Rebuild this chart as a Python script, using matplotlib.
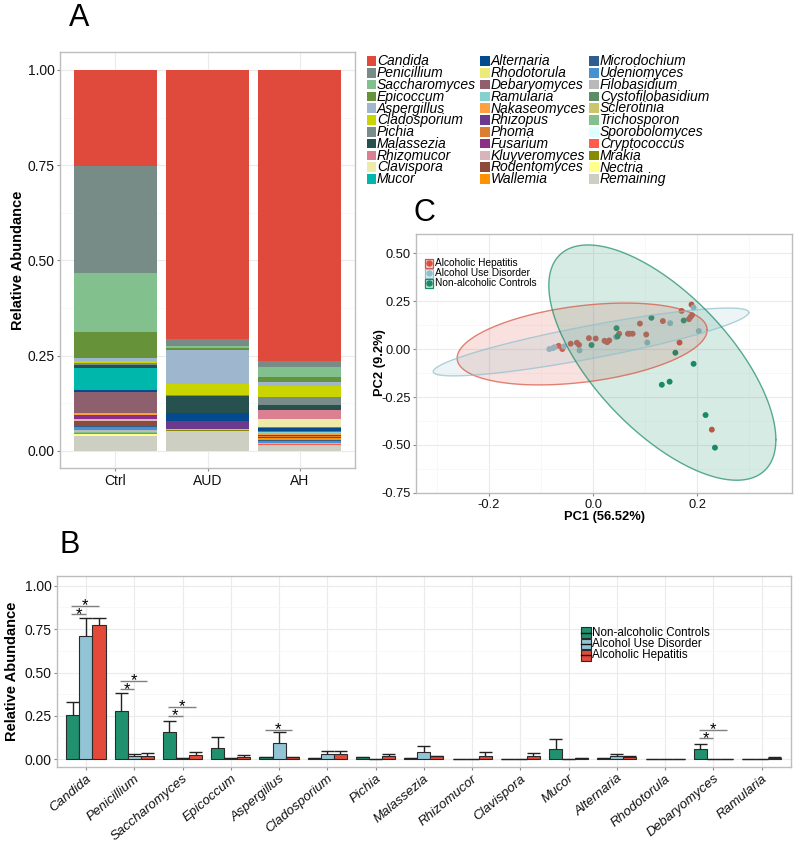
import matplotlib.pyplot as plt
import numpy as np
from matplotlib.patches import Rectangle
from matplotlib.lines import Line2D

ANCHO = 800
ALTO = 843

# ---------------- Panel A: abundancia relativa apilada ----------------
GENEROS = ["Candida", "Penicillium", "Saccharomyces", "Epicoccum", "Aspergillus",
           "Cladosporium", "Pichia", "Malassezia", "Rhizomucor", "Clavispora", "Mucor",
           "Alternaria", "Rhodotorula", "Debaryomyces", "Ramularia", "Nakaseomyces",
           "Rhizopus", "Phoma", "Fusarium", "Kluyveromyces", "Rodentomyces", "Wallemia",
           "Microdochium", "Udeniomyces", "Filobasidium", "Cystofilobasidium", "Sclerotinia",
           "Trichosporon", "Sporobolomyces", "Cryptococcus", "Mrakia", "Nectria", "Remaining"]
COLORES = ["#DF4A3C", "#778B87", "#82C08E", "#66923A", "#9EB6CE",
           "#C9D400", "#7A8C89", "#27514E", "#DA8090", "#EEEBAA", "#00B7AC",
           "#044A8F", "#EEEA7A", "#8E5F6C", "#86D1CE", "#FFA040",
           "#6B3A8D", "#DB7E34", "#8B2F86", "#D6B6BA", "#8E4B3A", "#FF9200",
           "#2E5E8E", "#4691D1", "#B9B9B9", "#5A8C66", "#CBC56C",
           "#82C08E", "#DFFFFF", "#FF5A4A", "#868C00", "#FFFF8A", "#CECFC3"]
GRUPOS_A = ["Ctrl", "AUD", "AH"]
ABUND_CTRL = [0.2537, 0.280, 0.1557, 0.0674, 0.0087, 0.0052, 0.0061, 0.006, 0.001, 0.001, 0.0569,
              0.0052, 0.0005, 0.0542, 0.0005, 0.0044, 0.0005, 0.001, 0.0105, 0.0052, 0.013, 0.001,
              0.002, 0.007, 0.002, 0.002, 0.002, 0.002, 0.001, 0.001, 0.002, 0.003, 0.0402]
ABUND_AUD = [0.7087, 0.0175, 0.0044, 0.007, 0.0892, 0.028, 0.0026, 0.0437, 0.0, 0.0, 0.0005,
             0.0201, 0.0, 0.0005, 0.0, 0.0, 0.0219, 0.001, 0.0, 0.0, 0.0, 0.0,
             0.0, 0.0, 0.0, 0.0, 0.002, 0.0, 0.0, 0.0, 0.001, 0.0, 0.0534]
ABUND_AH = [0.770, 0.0175, 0.0262, 0.0131, 0.0105, 0.0306, 0.0201, 0.0131, 0.0236, 0.0201, 0.0035,
            0.008, 0.001, 0.001, 0.005, 0.005, 0.001, 0.004, 0.001, 0.001, 0.001, 0.004,
            0.004, 0.003, 0.001, 0.001, 0.001, 0.001, 0.0005, 0.001, 0.0005, 0.001, 0.015]

# ---------------- Panel B: medias por genero ----------------
GENEROS_B = GENEROS[:15]
GRUPOS_B = ["Non-alcoholic Controls", "Alcohol Use Disorder", "Alcoholic Hepatitis"]
COLORES_B = ["#21906F", "#93C4D5", "#E34A3A"]
MEDIA_NC = [0.255, 0.28, 0.158, 0.068, 0.012, 0.005, 0.012, 0.005, 0.001, 0.001, 0.058, 0.006, 0.001, 0.058, 0.001]
TOPE_NC = [0.332, 0.38, 0.22, 0.131, 0.014, 0.007, 0.015, 0.007, 0.001, 0.001, 0.115, 0.008, 0.001, 0.086, 0.001]
MEDIA_AUD = [0.712, 0.02, 0.006, 0.007, 0.092, 0.028, 0.003, 0.044, 0.001, 0.001, 0.001, 0.02, 0.001, 0.001, 0.001]
TOPE_AUD = [0.812, 0.029, 0.007, 0.009, 0.155, 0.05, 0.004, 0.078, 0.001, 0.001, 0.002, 0.03, 0.001, 0.002, 0.001]
MEDIA_AH = [0.774, 0.019, 0.026, 0.015, 0.012, 0.03, 0.02, 0.018, 0.021, 0.02, 0.008, 0.015, 0.001, 0.002, 0.01]
TOPE_AH = [0.816, 0.035, 0.045, 0.027, 0.015, 0.048, 0.032, 0.022, 0.04, 0.038, 0.01, 0.021, 0.001, 0.003, 0.013]
# (indice de genero, grupo comparado con controles, altura de la linea)
SIGNIF_GENERO = [0, 0, 1, 1, 2, 2, 4, 13, 13]
SIGNIF_GRUPO = [1, 2, 1, 2, 1, 2, 2, 1, 2]
SIGNIF_ALTURA = [0.835, 0.885, 0.403, 0.453, 0.251, 0.301, 0.171, 0.121, 0.169]

# ---------------- Panel C: PCA ----------------
GRUPOS_C = ["Alcoholic Hepatitis", "Alcohol Use Disorder", "Non-alcoholic Controls"]
COLORES_C = ["#D9503F", "#8FC0CE", "#178A66"]
PC1_AH = [-0.066, -0.059, -0.043, -0.031, -0.027, -0.008, 0.005, 0.022, 0.027, 0.031, 0.050, 0.067,
          0.070, 0.076, 0.090, 0.102, 0.134, 0.166, 0.170, 0.184, 0.187, 0.190, 0.189, 0.228]
PC2_AH = [0.017, 0.000, 0.028, 0.033, 0.022, 0.057, 0.055, 0.043, 0.036, 0.045, 0.080, 0.080,
          0.080, 0.080, 0.133, 0.076, 0.146, 0.034, 0.199, 0.156, 0.167, 0.177, 0.232, -0.420]
PC1_AUD = [-0.084, -0.077, -0.074, -0.056, -0.026, 0.044, 0.104, 0.148, 0.193, 0.203]
PC2_AUD = [0.000, 0.005, 0.010, 0.014, -0.007, 0.063, 0.034, 0.135, 0.217, 0.094]
PC1_NC = [-0.003, 0.045, 0.047, 0.112, 0.174, 0.158, 0.193, 0.132, 0.147, 0.216, 0.234]
PC2_NC = [0.021, 0.109, 0.066, 0.163, 0.149, -0.019, -0.077, -0.186, -0.170, -0.344, -0.514]
# centro x, centro y, semieje x, semieje y, desfase (grados)
ELIPSE_AH = [-0.021, 0.0265, 0.240, 0.2135, 69.9]
ELIPSE_AUD = [-0.004, 0.037, 0.303, 0.177, 29.5]
ELIPSE_NC = [0.133, -0.0705, 0.218, 0.6135, 130.9]


def rect_px(izq, arriba, der, abajo):
    return [izq / ANCHO, 1 - abajo / ALTO, (der - izq) / ANCHO, (abajo - arriba) / ALTO]


def px(x, y):
    return x / ANCHO, 1 - y / ALTO


def estilo(ax):
    for s in ax.spines.values():
        s.set_color("#BDBDBD")
        s.set_linewidth(1.0)
    ax.grid(True, which="major", color="#EBEBEB", lw=0.8)
    ax.grid(True, which="minor", color="#F5F5F5", lw=0.5)
    ax.set_axisbelow(True)
    ax.tick_params(which="major", length=2.5, width=0.8, color="#8A8A8A", pad=1.5,
                   labelsize=10, labelcolor="#111111")
    ax.tick_params(which="minor", length=0)


def panel_a(fig):
    ax = fig.add_axes(rect_px(60, 52, 355, 468))
    estilo(ax)
    datos = np.array([ABUND_CTRL, ABUND_AUD, ABUND_AH])
    datos = datos / datos.sum(axis=1, keepdims=True)
    x = np.arange(1, len(GRUPOS_A) + 1)
    base = np.zeros(len(GRUPOS_A))
    for i in range(len(GENEROS) - 1, -1, -1):
        ax.bar(x, datos[:, i], width=0.9, bottom=base, color=COLORES[i], linewidth=0)
        base = base + datos[:, i]
    ax.set_xlim(0.4, 3.6)
    ax.set_ylim(-0.045, 1.047)
    ax.set_xticks(x)
    ax.set_xticklabels(GRUPOS_A)
    ax.set_yticks([0, 0.25, 0.5, 0.75, 1.0])
    ax.set_yticklabels(["0.00", "0.25", "0.50", "0.75", "1.00"])
    ax.set_yticks([0.125, 0.375, 0.625, 0.875], minor=True)
    fig.text(*px(18, 260), "Relative Abundance", rotation=90, fontsize=10.5,
             fontweight="bold", ha="center", va="center")

    # leyenda de generos en tres columnas
    columnas = [366.5, 480, 589.3]
    for i, nombre in enumerate(GENEROS):
        col = i // 11
        fila = i % 11
        yc = 61 + fila * 11.8
        x0 = columnas[col]
        fig.add_artist(Rectangle(px(x0, yc + 4.8), 9.5 / ANCHO, 9.6 / ALTO,
                                 transform=fig.transFigure, facecolor=COLORES[i],
                                 edgecolor="none"))
        fig.text(*px(x0 + 10.5, yc + 0.3), nombre, fontsize=10, fontstyle="italic",
                 ha="left", va="center")


def panel_b(fig):
    ax = fig.add_axes(rect_px(57, 576, 790.7, 767))
    estilo(ax)
    ancho = 0.27
    x = np.arange(1, len(GENEROS_B) + 1)
    medias = [MEDIA_NC, MEDIA_AUD, MEDIA_AH]
    topes = [TOPE_NC, TOPE_AUD, TOPE_AH]
    for g in range(3):
        xs = x + (g - 1) * ancho
        ax.bar(xs, medias[g], width=ancho, color=COLORES_B[g], edgecolor="#2B2B2B",
               linewidth=0.8, zorder=2)
        ax.vlines(xs, medias[g], topes[g], color="#222222", lw=1, zorder=3)
        ax.hlines(topes[g], xs - ancho / 2, xs + ancho / 2, color="#222222", lw=1, zorder=3)
    for gen, grp, alt in zip(SIGNIF_GENERO, SIGNIF_GRUPO, SIGNIF_ALTURA):
        x1 = gen + 1 - ancho - 0.03
        x2 = gen + 1 + (grp - 1) * ancho
        ax.hlines(alt, x1, x2, color="#808080", lw=1, zorder=3)
        ax.text((x1 + x2) / 2, alt, "*", fontsize=12, ha="center", va="center", zorder=4)
    ax.set_xlim(0.4, 15.6)
    ax.set_ylim(-0.044, 1.056)
    ax.set_xticks(x)
    ax.set_xticklabels(GENEROS_B, rotation=40, ha="right", va="top",
                       rotation_mode="anchor", fontstyle="italic", fontsize=9.6)
    ax.tick_params(axis="x", pad=1.5)
    ax.set_yticks([0, 0.25, 0.5, 0.75, 1.0])
    ax.set_yticklabels(["0.00", "0.25", "0.50", "0.75", "1.00"])
    ax.set_yticks([0.125, 0.375, 0.625, 0.875], minor=True)
    fig.text(*px(12, 671), "Relative Abundance", rotation=90, fontsize=10.5,
             fontweight="bold", ha="center", va="center")

    # leyenda
    for g, nombre in enumerate(GRUPOS_B):
        yc = 632.7 + g * 11.3
        fig.add_artist(Rectangle(px(581, yc + 5.4), 10 / ANCHO, 10.8 / ALTO,
                                 transform=fig.transFigure, facecolor=COLORES_B[g],
                                 edgecolor="#2B2B2B", lw=0.8))
        fig.add_artist(Line2D([581 / ANCHO, 591 / ANCHO], [1 - yc / ALTO, 1 - yc / ALTO],
                              transform=fig.transFigure, color="#111111", lw=1))
        fig.text(*px(592, yc), nombre, fontsize=8.4, ha="left", va="center")


def puntos_elipse(elipse):
    cx, cy, sx, sy, fase = elipse
    t = np.linspace(0, 2 * np.pi, 300)
    return cx + sx * np.cos(t), cy + sy * np.cos(t - np.radians(fase))


def panel_c(fig):
    ax = fig.add_axes(rect_px(416, 234, 791.5, 493.3))
    estilo(ax)
    ax.tick_params(labelsize=9.3)
    puntos = [(PC1_AH, PC2_AH), (PC1_AUD, PC2_AUD), (PC1_NC, PC2_NC)]
    elipses = [ELIPSE_AH, ELIPSE_AUD, ELIPSE_NC]
    for (pc1, pc2), color in zip(puntos, COLORES_C):
        ax.scatter(pc1, pc2, s=18, color=color, edgecolors="none", zorder=2)
    for elipse, color in zip(elipses, COLORES_C):
        ex, ey = puntos_elipse(elipse)
        ax.fill(ex, ey, color=color, alpha=0.17, lw=0, zorder=3)
        ax.plot(ex, ey, color=color, alpha=0.7, lw=1, zorder=4)
    ax.set_xlim(-0.34, 0.381)
    ax.set_ylim(-0.752, 0.60)
    ax.set_xticks([-0.2, 0.0, 0.2])
    ax.set_xticklabels(["-0.2", "0.0", "0.2"])
    ax.set_xticks([-0.3, -0.1, 0.1, 0.3], minor=True)
    ax.set_yticks([-0.75, -0.5, -0.25, 0.0, 0.25, 0.5])
    ax.set_yticklabels(["-0.75", "-0.50", "-0.25", "0.00", "0.25", "0.50"])
    ax.set_yticks([-0.625, -0.375, -0.125, 0.125, 0.375], minor=True)
    ax.tick_params(axis="x", pad=1.5)
    fig.text(*px(604, 517), "PC1 (56.52%)", fontsize=9.3, fontweight="bold",
             ha="center", va="center")
    fig.text(*px(380, 363), "PC2 (9.2%)", rotation=90, fontsize=9.3, fontweight="bold",
             ha="center", va="center")

    # leyenda
    for g, nombre in enumerate(GRUPOS_C):
        yc = 263.3 + g * 10
        fig.add_artist(Rectangle(px(424.5, yc + 4.3), 8.8 / ANCHO, 8.6 / ALTO,
                                 transform=fig.transFigure, facecolor=COLORES_C[g],
                                 alpha=0.25, edgecolor="none"))
        fig.add_artist(Rectangle(px(424.5, yc + 4.3), 8.8 / ANCHO, 8.6 / ALTO,
                                 transform=fig.transFigure, facecolor="none",
                                 edgecolor=COLORES_C[g], lw=0.9))
        fig.add_artist(Line2D([428.9 / ANCHO], [1 - yc / ALTO], transform=fig.transFigure,
                              marker="o", markersize=3.6, color=COLORES_C[g], ls=""))
        fig.text(*px(435, yc), nombre, fontsize=7.3, ha="left", va="center")


if __name__ == "__main__":
    plt.rcParams["font.family"] = ["Liberation Sans", "DejaVu Sans"]
    fig = plt.figure(figsize=(ANCHO / 100, ALTO / 100), dpi=100)
    panel_a(fig)
    panel_b(fig)
    panel_c(fig)
    fig.text(*px(79, 18), "A", fontsize=22, ha="center", va="center")
    fig.text(*px(70, 545), "B", fontsize=22, ha="center", va="center")
    fig.text(*px(424, 213), "C", fontsize=22, ha="center", va="center")
    fig.savefig("out.png", dpi=100)
